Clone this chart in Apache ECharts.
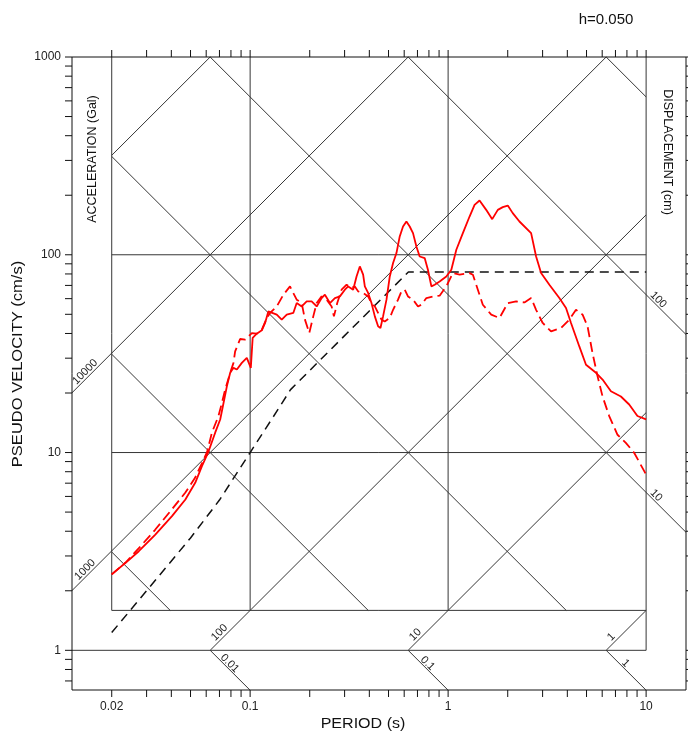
<!DOCTYPE html>
<html>
<head>
<meta charset="utf-8">
<script src="https://cdn.jsdelivr.net/npm/echarts@6/dist/echarts.min.js"></script>
<style>
  html, body { margin: 0; padding: 0; background: #fff; }
  #chart { width: 688px; height: 736px; }
</style>
</head>
<body>
<div id="chart"></div>
<script>
// pseudo velocity response spectra, h=0.050
// period (s)
const solidT = [
  0.02, 0.0235, 0.0274, 0.0332, 0.0403, 0.0471, 0.0528, 0.0571, 0.0617, 0.0666,
  0.0706, 0.0734, 0.0763, 0.0793, 0.0824, 0.0857, 0.0908, 0.0962, 0.1008, 0.103,
  0.108, 0.1146, 0.119, 0.1236, 0.1261, 0.1363, 0.1444, 0.1531, 0.1652, 0.1719, 0.1822,
  0.193, 0.2045, 0.2168, 0.2297, 0.2386, 0.2529, 0.268, 0.284, 0.301, 0.3128,
  0.3315, 0.3447, 0.3581, 0.3722, 0.3796, 0.3944, 0.4102, 0.4264, 0.4429, 0.4553,
  0.4693, 0.4883, 0.5074, 0.5272, 0.5483, 0.5696, 0.5919, 0.6157, 0.6397, 0.6648,
  0.6914, 0.7184, 0.7613, 0.7907, 0.8231, 0.8551, 0.906, 0.9793, 1.038, 1.1,
  1.187, 1.283, 1.36, 1.441, 1.557, 1.67, 1.782, 1.888, 2.001, 2.12,
  2.292, 2.625, 2.782, 2.948, 3.246, 3.645, 3.939, 4.175, 4.598, 4.969,
  5.58, 6.025, 6.642, 7.457, 8.212, 9.04, 10
];
// cm/s
const solidV = [
  2.42, 2.77, 3.17, 3.85, 4.77, 5.79, 7.03, 8.53, 10.15, 12.6,
  14.7, 17.8, 21.6, 25.3, 26.8, 26.3, 28.4, 30.1, 26.8, 38.0,
  39.9, 41.5, 45.2, 51.7, 52.3, 49.8, 47.0, 49.8, 50.8, 57.0, 54.8,
  58.1, 58.1, 54.8, 60.4, 62.8, 57.0, 60.4, 61.6, 66.6, 69.2,
  66.6, 77.7, 87.3, 79.3, 69.2, 64.1, 57.0, 48.8, 43.5, 42.6,
  48.8, 59.3, 77.7, 90.8, 102, 123.8, 139.0, 147.3, 139.0, 128.7,
  110.2, 98.0, 96.2, 84.0, 69.2, 70.6, 73.3, 77.7, 84.0, 106,
  128.6, 156.1, 178.9, 188.1, 168.7, 151.4, 168.7, 174.2, 177.4, 162.4,
  147.3, 128.6, 98.0, 80.8, 70.6, 60.4, 53.8, 45.2, 34.4, 27.8,
  25.3, 23.4, 20.4, 19.2, 17.5, 15.3, 14.7
];

const dashT = [
  0.02, 0.0235, 0.0279, 0.0332, 0.0395, 0.0471, 0.0528, 0.0573, 0.0607, 0.0641,
  0.0692, 0.072, 0.0748, 0.0793, 0.0824, 0.084, 0.0867, 0.089, 0.0944, 0.102,
  0.108, 0.1146, 0.1214, 0.1261, 0.1363, 0.1472, 0.159, 0.1652, 0.1719, 0.1822,
  0.1892, 0.1989, 0.2084, 0.2168, 0.2297, 0.2434, 0.258, 0.265, 0.2754, 0.2897,
  0.3071, 0.3254, 0.338, 0.3511, 0.3722, 0.3944, 0.4102, 0.4264, 0.4429, 0.4608,
  0.4787, 0.5074, 0.5272, 0.5586, 0.5809, 0.6035, 0.627, 0.6648, 0.7046, 0.7329,
  0.7766, 0.8384, 0.906, 0.9793, 1.057, 1.143, 1.283, 1.334, 1.413, 1.497,
  1.651, 1.817, 2.001, 2.206, 2.429, 2.625, 2.782, 3.003, 3.311, 3.718,
  4.094, 4.424, 4.777, 5.06, 5.36, 5.685, 6.025, 6.51, 7.17, 7.9,
  8.7, 9.58, 10
];
const dashV = [
  2.42, 2.78, 3.35, 4.08, 5.04, 6.28, 7.47, 8.9, 10.1, 12.6,
  15.3, 17.8, 20.8, 25.3, 28.4, 32.5, 35.1, 37.5, 37.2, 40.2,
  39.9, 41.8, 47.9, 50.8, 54.8, 62.8, 69.2, 64.1, 59.3, 57.0,
  47.0, 40.2, 48.8, 57.0, 61.6, 59.3, 54.8, 48.8, 57.0, 66.6,
  70.6, 67.9, 69.2, 65.3, 64.1, 61.6, 57.0, 54.8, 50.8, 47.0,
  46.0, 47.9, 52.7, 59.3, 65.3, 66.6, 61.6, 59.3, 54.8, 55.9,
  60.4, 61.6, 62.1, 69.2, 80.8, 79.3, 80.8, 79.3, 66.6, 55.9,
  49.8, 47.9, 57.0, 58.1, 57.4, 60.4, 52.7, 45.2, 41.0, 42.6,
  47.0, 52.7, 49.8, 43.5, 31.9, 24.3, 19.2, 15.3, 12.3, 11.2,
  9.97, 8.37, 7.74
];

// design spectrum (black dashed)
const designT = [0.02, 0.03, 0.05, 0.07, 0.1, 0.13, 0.16, 0.2, 0.3, 0.4, 0.5, 0.63, 10];
const designV = [1.23, 2.0, 3.7, 5.75, 10.0, 15.0, 20.8, 26.0, 39.0, 52.0, 65.0, 81.8, 81.8];

// axes
const xTickVals = [0.02, 0.03, 0.04, 0.05, 0.06, 0.07, 0.08, 0.09,
  0.1, 0.2, 0.3, 0.4, 0.5, 0.6, 0.7, 0.8, 0.9,
  1, 2, 3, 4, 5, 6, 7, 8, 9, 10];
const xLabelVals = [0.02, 0.1, 1, 10];
const xLabels = ['0.02', '0.1', '1', '10'];
const yTickVals = [0.7, 0.8, 0.9, 1, 2, 3, 4, 5, 6, 7, 8, 9,
  10, 20, 30, 40, 50, 60, 70, 80, 90, 100, 200, 300, 400, 500, 600, 700, 800, 900, 1000];
const yLabelVals = [1, 10, 100, 1000];
const yLabels = ['1', '10', '100', '1000'];

// tripartite lines: acceleration (Gal) and displacement (cm)
const accelVals = [100000, 10000, 1000, 100, 10, 1];
const dispVals = [1000, 100, 10, 1, 0.1, 0.01];
const accelLabelsLeft = ['10000', '1000'];
const accelLabelsBottom = ['100', '10', '1'];
const dispLabelsRight = ['100', '10'];
const dispLabelsBottom = ['0.01', '0.1', '1'];

const TWO_PI = 2 * Math.PI;
const T_MIN = 0.0126, T_MAX = 15.9, V_MIN = 0.63, V_MAX = 1000;
const VB = 10 / TWO_PI;   // bottom of the inner frame

const BOX = {
  main:   [0.02, 10, VB, V_MAX],
  left:   [T_MIN, 10, VB, V_MAX],
  bottom: [0.02, 10, 1, V_MAX],
  right:  [0.02, T_MAX, VB, V_MAX],
  strip:  [0.02, 10, V_MIN, 1]
};
const accelBoxes = [['main'], ['left'], ['left'], ['bottom'], ['bottom'], ['bottom']];
const dispBoxes = [['main'], ['right'], ['right'], ['main', 'strip'], ['main', 'strip'], ['main', 'strip']];

const FONT = 'Liberation Sans, Arial, Helvetica, sans-serif';
const GRID_COLOR = '#363636';

function zip(a, b) { return a.map((v, i) => [v, b[i]]); }

// line log10 V = s*log10 T + log10 c, clipped to a box
function clipDiag(c, s, box) {
  const lc = Math.log10(c);
  const [t0, t1, v0, v1] = box.map(Math.log10);
  let a, b;
  if (s > 0) { a = v0 - lc; b = v1 - lc; } else { a = lc - v1; b = lc - v0; }
  a = Math.max(a, t0); b = Math.min(b, t1);
  if (a >= b) return null;
  const T1 = Math.pow(10, a), T2 = Math.pow(10, b);
  return [T1, c * Math.pow(T1, s), T2, c * Math.pow(T2, s)];
}

function renderGrid(params, api) {
  const kids = [];
  const seg = (t1, v1, t2, v2, color, w) => {
    const p = api.coord([t1, v1]), q = api.coord([t2, v2]);
    kids.push({ type: 'line', shape: { x1: p[0], y1: p[1], x2: q[0], y2: q[1] },
      style: { stroke: color || GRID_COLOR, lineWidth: w || 1 } });
  };
  const px = (p, dx, dy, color) => {
    kids.push({ type: 'line', shape: { x1: p[0], y1: p[1], x2: p[0] + dx, y2: p[1] + dy },
      style: { stroke: color || '#111', lineWidth: 1 } });
  };
  const text = (x, y, str, rot, size, align) => {
    kids.push({ type: 'text', x: x, y: y, rotation: rot || 0,
      style: { text: str, fill: '#222', font: (size || 11) + 'px ' + FONT,
        align: align || 'center', verticalAlign: 'middle',
        textAlign: align || 'center', textVerticalAlign: 'middle' } });
  };

  // diagonal lines
  accelVals.forEach((A, i) => {
    accelBoxes[i].forEach(b => {
      const s = clipDiag(A / TWO_PI, 1, BOX[b]);
      if (s) seg(s[0], s[1], s[2], s[3]);
    });
  });
  dispVals.forEach((D, i) => {
    dispBoxes[i].forEach(b => {
      const s = clipDiag(TWO_PI * D, -1, BOX[b]);
      if (s) seg(s[0], s[1], s[2], s[3]);
    });
  });

  // inner frame and grid
  [10, 100].forEach(v => seg(0.02, v, 10, v));
  seg(0.02, VB, 10, VB);
  seg(T_MIN, 1, 10, 1);
  [0.02, 0.1, 1].forEach(t => seg(t, VB, t, V_MAX));
  seg(10, 1, 10, V_MAX);

  // outer frame
  seg(T_MIN, V_MIN, T_MAX, V_MIN, '#111');
  seg(T_MIN, V_MAX, T_MAX, V_MAX, '#111');
  seg(T_MIN, V_MIN, T_MIN, V_MAX, '#111');
  seg(T_MAX, V_MIN, T_MAX, V_MAX, '#111');

  // ticks
  xTickVals.forEach(t => {
    px(api.coord([t, V_MIN]), 0, 7);
    px(api.coord([t, V_MAX]), 0, -7);
  });
  yTickVals.forEach(v => {
    px(api.coord([T_MIN, v]), -7, 0);
    px(api.coord([T_MAX, v]), 7, 0);
  });

  // tick labels
  xLabelVals.forEach((t, i) => {
    const p = api.coord([t, V_MIN]);
    text(p[0], p[1] + 17, xLabels[i], 0, 12);
  });
  yLabelVals.forEach((v, i) => {
    const p = api.coord([T_MIN, v]);
    text(p[0] - 11, p[1], yLabels[i], 0, 12, 'right');
  });

  // labels along diagonal lines
  const diagLabel = (t, v, c, s, str, along, off, align) => {
    const p = api.coord([t, v]);
    const t2 = t * 2;
    const q = api.coord([t2, c * Math.pow(t2, s)]);
    const len = Math.hypot(q[0] - p[0], q[1] - p[1]);
    const dx = (q[0] - p[0]) / len, dy = (q[1] - p[1]) / len;
    const nx = dy, ny = -dx;   // upper side
    const x = p[0] + dx * along + nx * off;
    const y = p[1] + dy * along + ny * off;
    text(x, y, str, -Math.atan2(dy, dx), 11, align);
  };
  accelLabelsLeft.forEach(str => {
    const c = Number(str) / TWO_PI;
    diagLabel(T_MIN, c * T_MIN, c, 1, str, 24, 5.5);
  });
  accelLabelsBottom.forEach(str => {
    const c = Number(str) / TWO_PI;
    diagLabel(1 / c, 1, c, 1, str, 10, 6, 'left');
  });
  dispLabelsRight.forEach(str => {
    const c = TWO_PI * Number(str);
    diagLabel(10, c / 10, c, -1, str, 3, 5, 'left');
  });
  dispLabelsBottom.forEach(str => {
    const c = TWO_PI * Number(str);
    diagLabel(c, 1, c, -1, str, 23, 4.5);
  });

  return { type: 'group', children: kids };
}

const chart = echarts.init(document.getElementById('chart'), null, { renderer: 'canvas' });

const hiddenAxis = {
  axisLine: { show: false }, axisTick: { show: false },
  axisLabel: { show: false }, splitLine: { show: false }
};

const titleStyle = (text, size) => ({
  text: text, font: size + 'px ' + FONT, fill: '#111',
  align: 'center', verticalAlign: 'middle', textAlign: 'center', textVerticalAlign: 'middle'
});

const option = {
  animation: false,
  backgroundColor: '#fff',
  grid: { left: 72, top: 57, right: 2, bottom: 46, containLabel: false, outerBoundsMode: 'none' },
  xAxis: Object.assign({ type: 'log', logBase: 10, min: T_MIN, max: T_MAX }, hiddenAxis),
  yAxis: Object.assign({ type: 'log', logBase: 10, min: V_MIN, max: V_MAX }, hiddenAxis),
  graphic: [
    { type: 'text', x: 363, y: 724, scaleX: 1.07, silent: true,
      style: titleStyle('PERIOD (s)', 15) },
    { type: 'text', x: 18, y: 364, rotation: Math.PI / 2, scaleX: 1.1, silent: true,
      style: titleStyle('PSEUDO VELOCITY (cm/s)', 15) },
    { type: 'text', x: 93, y: 159, rotation: Math.PI / 2, silent: true,
      style: titleStyle('ACCELERATION (Gal)', 12.5) },
    { type: 'text', x: 667, y: 152, rotation: -Math.PI / 2, silent: true,
      style: titleStyle('DISPLACEMENT (cm)', 12.5) },
    { type: 'text', x: 606, y: 20, silent: true,
      style: titleStyle('h=0.050', 15) }
  ],
  series: [
    {
      type: 'custom',
      silent: true,
      z: 1,
      clip: false,
      renderItem: renderGrid,
      data: [[T_MIN, V_MIN]]
    },
    {
      name: 'design',
      type: 'line',
      z: 3,
      showSymbol: false,
      symbol: 'none',
      lineStyle: { color: '#111', width: 1.5, type: [9, 6] },
      data: zip(designT, designV)
    },
    {
      name: 'dashed',
      type: 'line',
      z: 4,
      showSymbol: false,
      symbol: 'none',
      lineStyle: { color: '#ff0000', width: 1.8, type: [10, 5] },
      data: zip(dashT, dashV)
    },
    {
      name: 'solid',
      type: 'line',
      z: 5,
      showSymbol: false,
      symbol: 'none',
      lineStyle: { color: '#ff0000', width: 1.8 },
      data: zip(solidT, solidV)
    }
  ]
};

chart.setOption(option);
</script>
</body>
</html>
